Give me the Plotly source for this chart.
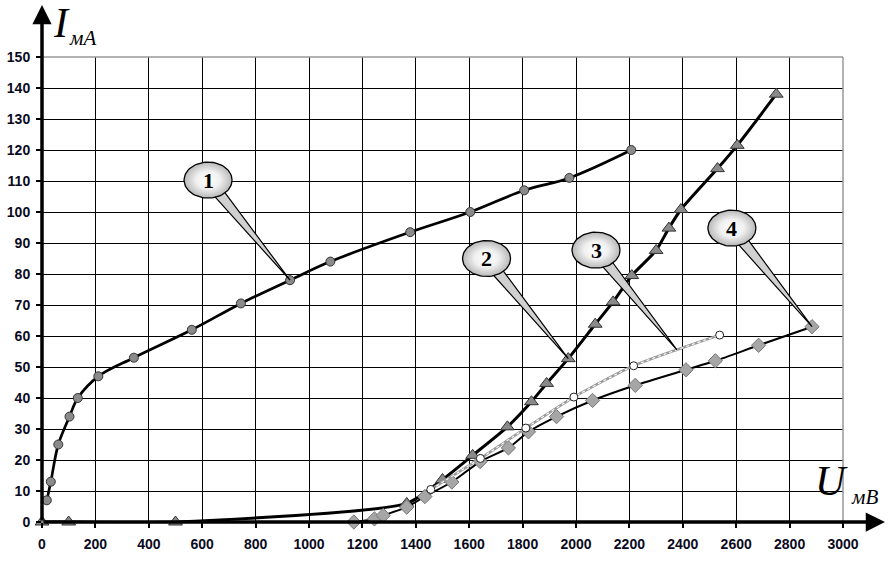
import numpy as np
import plotly.graph_objects as go

# ---- data (U in mV, I in mA) ----
u1 = [18, 33, 61, 103, 134, 211, 344, 561, 745, 929, 1080, 1379, 1604, 1806, 1975, 2207]
i1 = [7, 13, 25, 34, 40, 47, 53, 62, 70.5, 78, 84, 93.5, 100, 107, 111, 120]

u2 = [0, 100, 500, 1366, 1500, 1613, 1743, 1833, 1890, 1971, 2072, 2139, 2209, 2300, 2348, 2393, 2530, 2604, 2750]
i2 = [0, 0, 0, 6, 13.7, 21.5, 30.7, 38.8, 44.7, 52.7, 63.8, 71, 79.5, 87.6, 94.8, 100.8, 114, 121.5, 138]

u3 = [1456, 1642, 1812, 1992, 2216, 2538]
i3 = [10.5, 20.5, 30.3, 40.3, 50.4, 60.3]

u4 = [1168, 1245, 1278, 1366, 1434, 1535, 1641, 1747, 1822, 1927, 2062, 2222, 2412, 2522, 2684, 2884]
i4 = [0, 1, 2.1, 4.8, 8.2, 12.9, 19.5, 23.9, 29.1, 34, 39.2, 44.1, 49.1, 52, 57, 63]

x_ticks = list(range(0, 3001, 200))
y_ticks = list(range(0, 151, 10))

callout_labels = ["1", "2", "3", "4"]
callout_centers = [(622, 110.3), (1665, 85), (2075, 87.7), (2584, 94.8)]
callout_tips = [(929, 78), (1971, 52.7), (2378, 55.5), (2884, 63)]

# ---- layout geometry ----
W_FIG, H_FIG = 895, 569
ML, MR, MT, MB = 42, 52, 57, 47
PW, PH = W_FIG - ML - MR, H_FIG - MT - MB
XMAX, YMAX = 3000, 150
sx, sy = PW / XMAX, PH / YMAX


def px_to_paper(px, py):
    return (px - ML) / PW, (H_FIG - MB - py) / PH


fig = go.Figure()

fig.add_trace(go.Scatter(x=u1, y=i1, mode="lines+markers", line=dict(color="black", width=2.7, shape="spline"),
                         marker=dict(symbol="circle", size=9, color="#8a8a8a", line=dict(color="#333", width=1)),
                         cliponaxis=False))
fig.add_trace(go.Scatter(x=u2, y=i2, mode="lines+markers", line=dict(color="black", width=3, shape="spline", smoothing=0.6),
                         marker=dict(symbol="triangle-up", size=12, color="#8a8a8a", line=dict(color="#333", width=1)),
                         cliponaxis=False))
fig.add_trace(go.Scatter(x=u4, y=i4, mode="lines+markers", line=dict(color="black", width=2, shape="spline", smoothing=0.6),
                         marker=dict(symbol="diamond", size=11, color="#a6a6a6", line=dict(color="#777", width=1)),
                         cliponaxis=False))
fig.add_trace(go.Scatter(x=u3, y=i3, mode="lines", line=dict(color="#9a9a9a", width=2.6, shape="spline", smoothing=0.6),
                         cliponaxis=False))
fig.add_trace(go.Scatter(x=u3, y=i3, mode="lines+markers", line=dict(color="white", width=1.1, dash="dot", shape="spline", smoothing=0.6),
                         marker=dict(symbol="circle", size=8, color="white", line=dict(color="#222", width=1)),
                         cliponaxis=False))

# ---- callouts ----
annotations = []
RX, RY = 24, 18
for lab, (cu, ci), (tu, ti) in zip(callout_labels, callout_centers, callout_tips):
    cx, cy = cu * sx, ci * sy
    tx, ty = tu * sx, ti * sy
    d = np.array([tx - cx, ty - cy]); d = d / np.linalg.norm(d)
    n = np.array([-d[1], d[0]])
    base = np.array([cx, cy]) + d * 12
    b1 = base + n * 5.5
    b2 = base - n * 5.5
    wx = [b1[0], tx, b2[0], b1[0]]
    wy = [b1[1], ty, b2[1], b1[1]]
    fig.add_trace(go.Scatter(x=[v / sx for v in wx], y=[v / sy for v in wy], mode="lines", fill="toself",
                             fillcolor="#d0d0d0", line=dict(color="black", width=1.2), cliponaxis=False))
    t = np.linspace(0, 2 * np.pi, 80)
    ex = (cx + RX * np.cos(t)) / sx
    ey = (cy + RY * np.sin(t)) / sy
    fig.add_trace(go.Scatter(x=ex, y=ey, mode="lines", fill="toself",
                             fillgradient=dict(type="radial", colorscale=[[0, "#ffffff"], [0.5, "#f0f0f0"], [1, "#b8b8b8"]]),
                             line=dict(color="black", width=1.3), cliponaxis=False))
    annotations.append(dict(x=cu, y=ci, xref="x", yref="y", text="<b>" + lab + "</b>", showarrow=False,
                            xanchor="center", yanchor="middle",
                            font=dict(family="Liberation Serif", size=22, color="black")))

# axis arrows
hx, hy = px_to_paper(885, 0)
annotations.append(dict(x=hx, y=0, xref="paper", yref="paper", ax=-(885 - ML), ay=0,
                        axref="pixel", ayref="pixel", showarrow=True, arrowhead=2, arrowsize=1.1,
                        arrowwidth=3.5, arrowcolor="black", text=""))
annotations.append(dict(x=0, y=(H_FIG - MB - 5) / PH, xref="paper", yref="paper", ax=0, ay=(H_FIG - MB - 5),
                        axref="pixel", ayref="pixel", showarrow=True, arrowhead=2, arrowsize=1.1,
                        arrowwidth=3.5, arrowcolor="black", text=""))
# axis titles
for txt, (px, py), size in [("<i>I</i>", (61, 23), 42), ("<i>мА</i>", (82, 38), 21),
                            ("<i>U</i>", (831, 481), 42), ("<i>мВ</i>", (864, 497), 21)]:
    ax_, ay_ = px_to_paper(px, py)
    annotations.append(dict(x=ax_, y=ay_, xref="paper", yref="paper", text=txt, showarrow=False,
                            xanchor="center", yanchor="middle",
                            font=dict(family="Liberation Serif", size=size, color="black")))

fig.update_layout(
    width=W_FIG, height=H_FIG, margin=dict(l=ML, r=MR, t=MT, b=MB, autoexpand=False),
    plot_bgcolor="white", paper_bgcolor="white", showlegend=False,
    annotations=annotations,
    shapes=[
        dict(type="line", xref="paper", yref="paper", x0=0, x1=1, y0=1, y1=1, line=dict(color="#999", width=1.5)),
        dict(type="line", xref="paper", yref="paper", x0=1, x1=1, y0=0, y1=1, line=dict(color="#999", width=1.5)),
    ],
    xaxis=dict(range=[0, XMAX], tickvals=x_ticks, showgrid=True, gridcolor="black", gridwidth=1,
               automargin=False,
               zeroline=False, showline=False, ticks="outside", ticklen=5, tickwidth=2, tickcolor="black",
               ticklabelstandoff=4,
               tickfont=dict(family="Liberation Sans", size=14, color="#0a0a1e", weight="bold")),
    yaxis=dict(range=[0, YMAX], tickvals=y_ticks, showgrid=True, gridcolor="black", gridwidth=1,
               automargin=False,
               zeroline=False, showline=False, ticks="outside", ticklen=5, tickwidth=2, tickcolor="black",
               ticklabelstandoff=3,
               tickfont=dict(family="Liberation Sans", size=14, color="#0a0a1e", weight="bold")),
)

fig.write_html("out.html", config={"displayModeBar": False},
               post_script="document.body.style.margin='0';document.body.style.overflow='hidden';")
